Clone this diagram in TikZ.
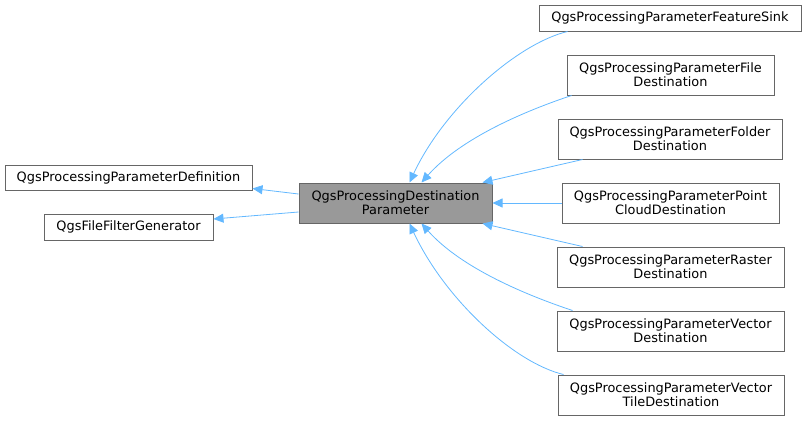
\documentclass[tikz,border=0pt]{standalone}
\usepackage{fontspec}
\setmainfont{DejaVu Sans}
\usetikzlibrary{arrows.meta}
\definecolor{edgeblue}{HTML}{63B8FF}
\definecolor{boxborder}{HTML}{666666}
\definecolor{mainfill}{HTML}{999999}
\begin{document}
\begin{tikzpicture}[x=1pt,y=-1pt,
  cls/.style={draw=boxborder,line width=1pt,fill=white,rectangle,inner sep=0pt,
    align=center,font=\fontsize{12.9}{14}\selectfont,minimum height=#1},
  cls/.default=26,
  inh/.style={draw=edgeblue,line width=0.8pt,-{Triangle[length=10pt,width=9pt]},edgeblue}]
\useasboundingbox (0,0) rectangle (807,421);
\node[cls,minimum width=247,minimum height=25] (def) at (128.5,177.5) {QgsProcessingParameterDefinition};
\node[cls,minimum width=169] (ffg) at (128.5,227) {QgsFileFilterGenerator};
\node[cls=40,minimum width=193,fill=mainfill] (main) at (395.5,203) {QgsProcessingDestination\\Parameter};
\node[cls,minimum width=262] (fs) at (670,18) {QgsProcessingParameterFeatureSink};
\node[cls=40,minimum width=207] (file) at (670.5,75) {QgsProcessingParameterFile\\Destination};
\node[cls=40,minimum width=224] (folder) at (670,139) {QgsProcessingParameterFolder\\Destination};
\node[cls=40,minimum width=217] (point) at (670.5,203) {QgsProcessingParameterPoint\\CloudDestination};
\node[cls=40,minimum width=227] (raster) at (670.5,267) {QgsProcessingParameterRaster\\Destination};
\node[cls=40,minimum width=227] (vector) at (670.5,331) {QgsProcessingParameterVector\\Destination};
\node[cls=40,minimum width=226] (vtile) at (671,395) {QgsProcessingParameterVector\\TileDestination};

\draw[inh] ([xshift=29pt]fs.south west) .. controls +(-50,12) and +(35,-75) .. ([xshift=111pt]main.north west);
\draw[inh] ([xshift=5pt]file.south west) .. controls +(-45,15) and +(40,-45) .. ([xshift=123pt]main.north west);
\draw[inh] ([xshift=25pt]folder.south west) -- ([xshift=-10pt]main.north east);
\draw[inh] (point.west) -- (main.east);
\draw[inh] ([xshift=26pt]raster.north west) -- ([xshift=-10pt]main.south east);
\draw[inh] ([xshift=16pt]vector.north west) .. controls +(-45,-15) and +(40,45) .. ([xshift=123pt]main.south west);
\draw[inh] ([xshift=6pt]vtile.north west) .. controls +(-50,-12) and +(35,75) .. ([xshift=111pt]main.south west);
\draw[inh] ([yshift=9pt]main.west) -- ([yshift=-11pt]def.east);
\draw[inh] ([yshift=-9pt]main.west) -- ([yshift=8pt]ffg.east);
\end{tikzpicture}
\end{document}
